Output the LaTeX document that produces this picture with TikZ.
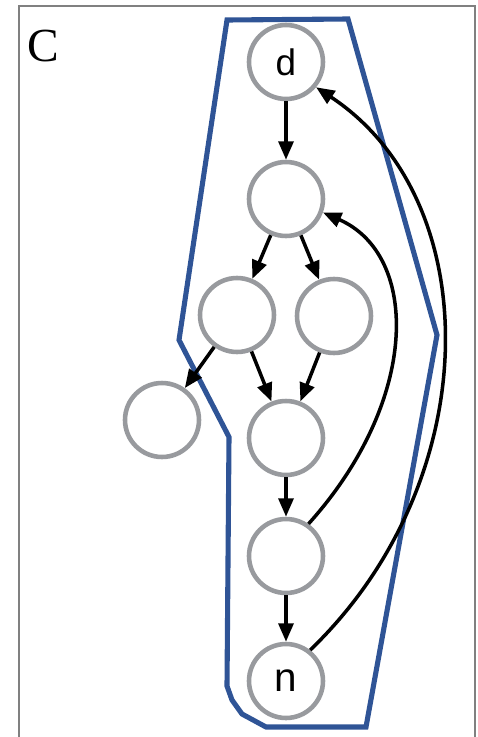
\documentclass[tikz,border=0pt]{standalone}
\usepackage{fontspec}
\setmainfont{Liberation Serif}
\newfontfamily\labelfont{Liberation Sans}
\usetikzlibrary{arrows.meta}
\definecolor{framegray}{RGB}{128,128,128}
\definecolor{circgray}{RGB}{152,154,158}
\definecolor{hullblue}{RGB}{47,84,150}
\tikzset{
  vtx/.style={circle, draw=circgray, line width=2.6pt, fill=white,
    minimum size=1.48cm, inner sep=0pt, font=\labelfont},
  edge/.style={line width=2pt, -{Triangle[length=10.5pt,width=8.5pt]}},
  hull/.style={draw=hullblue, line width=2.9pt, line join=miter},
}
\begin{document}
\begin{tikzpicture}[x=0.02cm,y=-0.02cm]
  \useasboundingbox (0,0) rectangle (477,737);
  % panel frame
  \draw[framegray, line width=1.2pt] (19,737) -- (19,6) -- (475,6) -- (475,737);
  \node[anchor=base west, font=\fontsize{27}{30}\selectfont, inner sep=0pt] (lbl) at (27,61) {C};

  % region boundary
  \draw[hull] (229,437) -- (227,686) -- (232,700) -- (242,714) -- (266,727)
    -- (366,727) -- (437,335) -- (348,19) -- (227,20) -- (179,340) -- cycle;

  % vertices
  \node[vtx, font=\labelfont\fontsize{21}{24}\selectfont] (d) at (286,62) {d};
  \node[vtx] (b) at (286,199) {};
  \node[vtx] (l) at (237,315) {};
  \node[vtx] (r) at (334,316) {};
  \node[vtx] (f) at (162,420) {};
  \node[vtx] (m) at (286,438) {};
  \node[vtx] (s) at (286,556) {};
  \node[vtx, font=\labelfont\fontsize{23}{26}\selectfont] (n) at (286,681) {n};

  % forward edges
  \draw[edge] (d) -- (b);
  \draw[edge] (b) -- (l);
  \draw[edge] (b) -- (r);
  \draw[edge] (l) -- (f);
  \draw[edge] (l) -- (m);
  \draw[edge] (r) -- (m);
  \draw[edge] (m) -- (s);
  \draw[edge] (s) -- (n);

  % back edges
  \draw[edge] (s.55) .. controls (420,400) and (420,255) .. (b.-20);
  \draw[edge] (n.52) .. controls (487,480) and (487,200) .. (d.-40);
\end{tikzpicture}
\end{document}
